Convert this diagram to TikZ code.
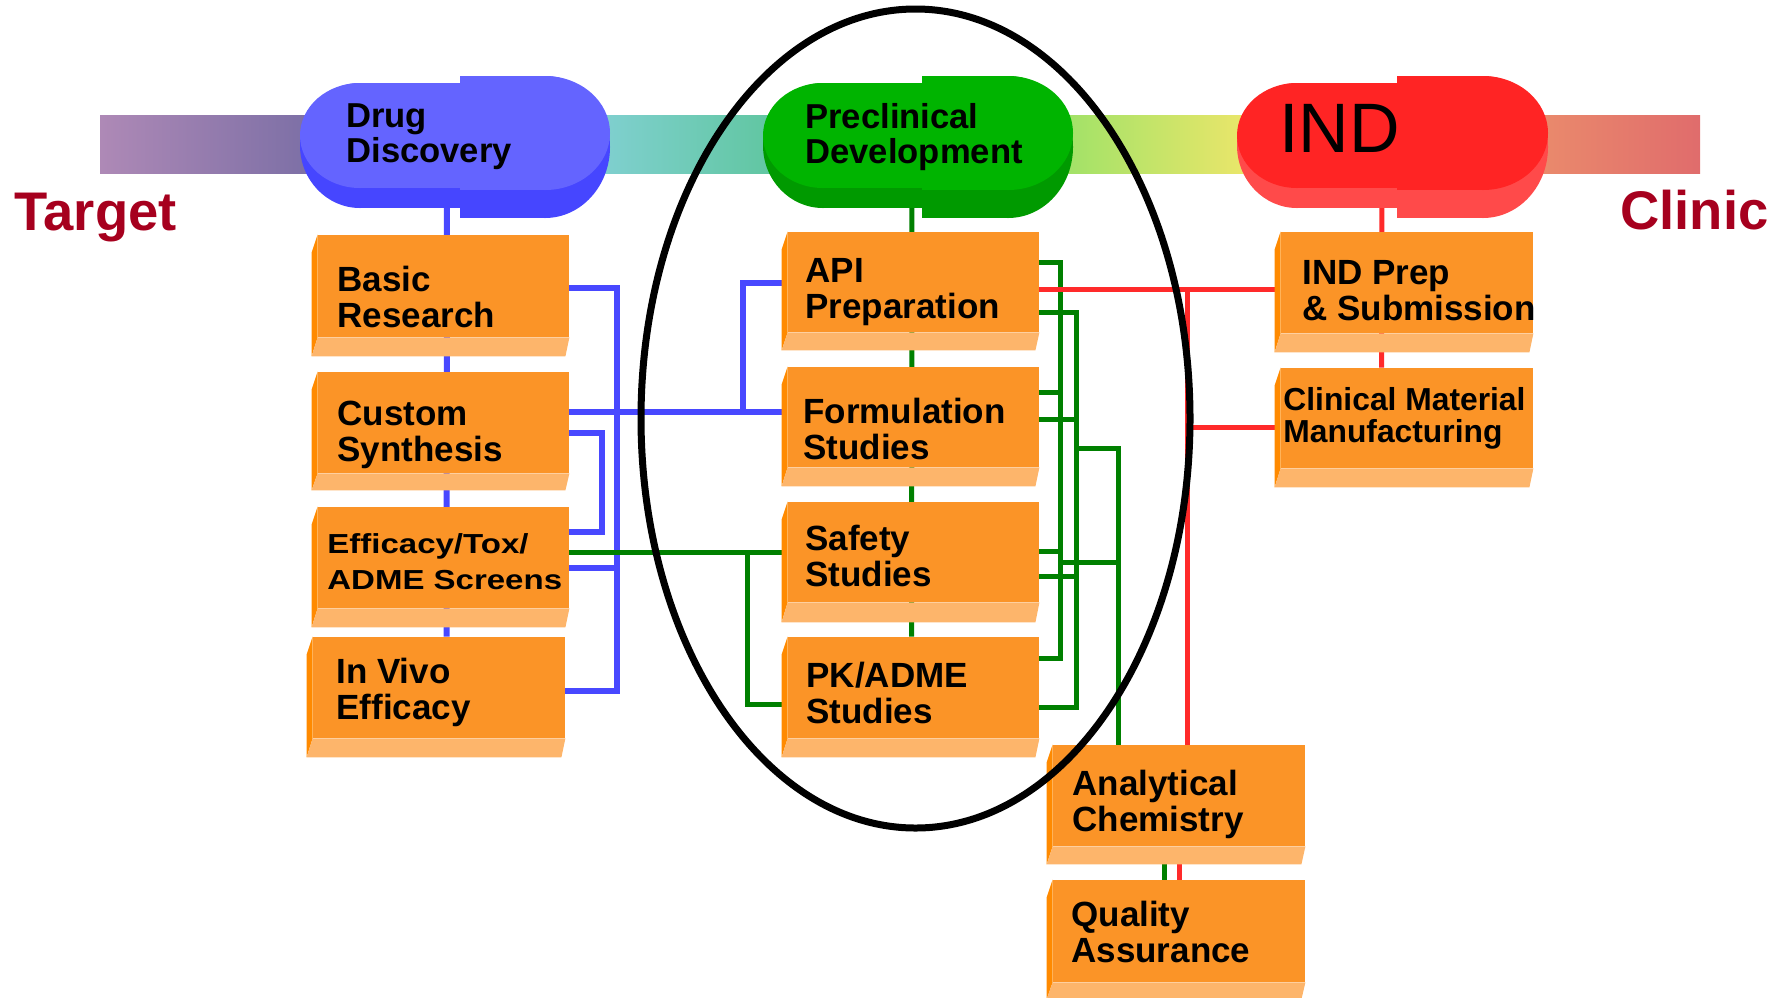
\documentclass[tikz,border=0pt]{standalone}
\usepackage{fontspec}
\setmainfont{Liberation Sans}
\usetikzlibrary{fit,calc}
\definecolor{oface}{HTML}{FB9427}
\definecolor{oband}{HTML}{FDB56B}
\definecolor{oside}{HTML}{FF8A00}
\definecolor{blueln}{HTML}{4848FF}
\definecolor{greenln}{HTML}{008000}
\definecolor{redln}{HTML}{FF2A2A}
\definecolor{ddface}{HTML}{6464FF}
\definecolor{ddband}{HTML}{4646FF}
\definecolor{pdface}{HTML}{00B400}
\definecolor{pdband}{HTML}{009A00}
\definecolor{indface}{HTML}{FF2424}
\definecolor{indband}{HTML}{FF4A4A}
\definecolor{tred}{HTML}{A6001E}
\newcommand\twol[2]{\begin{tabular}[t]{@{}l@{}}#1\\#2\end{tabular}}
\newcommand\drawbox[2]{%
  \fill[oside] ($(#1.north west)+(0,18)$) -- ($(#1.north west)+(6,0)$) -- ($(#1.south west)+(6,-#2)$) -- (#1.south west) -- cycle;
  \fill[oband] (#1.south west) -- ($(#1.south west)+(6,-#2)$) -- ($(#1.south east)+(0,-#2)$) -- ($(#1.south east)+(-4,0)$) -- cycle;
  \fill[oface] ($(#1.north west)+(6,0)$) rectangle ($(#1.south east)+(0,-#2)$);
}
\newcommand\pill[5]{%
  \fill[#5] (#1+60,83) rectangle (#2,208);
  \fill[#5] (#1+60,145.5) ellipse [x radius=60, y radius=62.5];
  \fill[#4] (#1+60,83) rectangle (#2,188);
  \fill[#4] (#1+60,135.5) ellipse [x radius=60, y radius=52.5];
  \fill[#5] (#2,76) rectangle (#3-65,218);
  \fill[#5] (#3-65,147) ellipse [x radius=65, y radius=71];
  \fill[#4] (#2,76) rectangle (#3-65,190);
  \fill[#4] (#3-65,133) ellipse [x radius=65, y radius=57];
}
\begin{document}
\begin{tikzpicture}[x=0.5pt,y=-0.5pt,
  boxn/.style={inner sep=0pt, draw=none},
  bl/.style={draw=blueln, line width=3pt},
  gr/.style={draw=greenln, line width=2.5pt},
  rd/.style={draw=redln, line width=2.5pt},
  btxt/.style={inner sep=0pt, anchor=base west, font=\fontsize{17.5pt}{18pt}\selectfont\bfseries},
  stxt/.style={inner sep=0pt, anchor=base west, font=\fontsize{15.9pt}{16pt}\selectfont\bfseries},
  etxt/.style={inner sep=0pt, anchor=base west, font=\fontsize{13.75pt}{18pt}\selectfont\bfseries},
  ptxt/.style={inner sep=0pt, anchor=base west, font=\fontsize{17.3pt}{17.5pt}\selectfont\bfseries},
  ttxt/.style={inner sep=0pt, anchor=base west, text=tred, font=\fontsize{27.2pt}{28pt}\selectfont\bfseries}
]
\useasboundingbox (0,0) rectangle (1786,997);
% gradient bar
\fill[left color={rgb,255:red,174;green,137;blue,182}, right color={rgb,255:red,122;green,110;blue,165}] (100,115) rectangle (320,173);
\fill[left color={rgb,255:red,128;green,208;blue,208}, right color={rgb,255:red,96;green,198;blue,160}] (600,115) rectangle (775,173);
\fill[left color={rgb,255:red,160;green,226;blue,104}, right color={rgb,255:red,236;green,230;blue,106}] (1063,115) rectangle (1250,173);
\fill[left color={rgb,255:red,234;green,138;blue,108}, right color={rgb,255:red,224;green,108;blue,108}] (1540,115) rectangle (1700,173);

% node frames
\node[boxn, fit={(300,76) (610,218)}] (dd) {};
\node[boxn, fit={(763,76) (1073,218)}] (pd) {};
\node[boxn, fit={(1237,76) (1548,218)}] (ind) {};
\node[boxn, fit={(312,235) (569,356)}] (bas) {};
\node[boxn, fit={(312,372) (569,490)}] (cus) {};
\node[boxn, fit={(312,507) (569,627)}] (eff) {};
\node[boxn, fit={(307,637) (565,757)}] (ivv) {};
\node[boxn, fit={(782,232) (1039,350)}] (api) {};
\node[boxn, fit={(782,367) (1039,486)}] (frm) {};
\node[boxn, fit={(782,502) (1039,622)}] (saf) {};
\node[boxn, fit={(782,637) (1039,757)}] (pk) {};
\node[boxn, fit={(1275,232) (1533,352)}] (indp) {};
\node[boxn, fit={(1275,368) (1533,487)}] (cmm) {};
\node[boxn, fit={(1047,745) (1305,864)}] (ac) {};
\node[boxn, fit={(1047,880) (1305,999)}] (qa) {};

% blue connectors
\draw[bl] ($(dd.center)+(-8,0)$) -- ($(ivv.north west)+(140,0)$);
\draw[bl] ($(bas.north east)+(0,53)$) -| ($(ivv.north east)+(52,54)$) -- ($(ivv.north east)+(0,54)$);
\draw[bl] ($(eff.north east)+(0,61)$) -- ++(48,0);
\draw[bl] ($(cus.north east)+(0,40)$) -- ($(frm.north west)+(0,45)$);
\draw[bl] ($(frm.north west)+(-39,45)$) |- ($(api.north west)+(0,51)$);
\draw[bl] ($(cus.north east)+(0,61)$) -| ($(eff.north east)+(33,25)$) -- ($(eff.north east)+(0,25)$);
% green connectors
\draw[gr] ($(pd.center)+(-6,0)$) -- ($(pk.north west)+(130,0)$);
\draw[gr] ($(eff.north east)+(0,46)$) -- ($(saf.north west)+(0,51)$);
\draw[gr] ($(saf.north west)+(-34,51)$) |- ($(pk.north west)+(0,68)$);
\draw[gr] ($(api.north east)+(0,31)$) -| ($(pk.north east)+(21,22)$) -- ($(pk.north east)+(0,22)$);
\draw[gr] ($(frm.north east)+(0,26)$) -- ++(21,0);
\draw[gr] ($(saf.north east)+(0,50)$) -- ++(21,0);
\draw[gr] ($(api.north east)+(0,81)$) -| ($(pk.north east)+(37,71)$) -- ($(pk.north east)+(0,71)$);
\draw[gr] ($(frm.north east)+(0,53)$) -- ++(37,0);
\draw[gr] ($(saf.north east)+(0,75)$) -- ++(37,0);
\draw[gr] ($(frm.north east)+(37,82)$) -| ($(ac.north west)+(72,0)$);
\draw[gr] ($(saf.north east)+(21,61)$) -- ++(59,0);
\draw[gr] ($(ac.south west)+(118,0)$) -- ($(qa.north west)+(118,0)$);
% red connectors
\draw[rd] ($(ind.center)+(-10.5,0)$) -- ($(cmm.north west)+(107,0)$);
\draw[rd] ($(api.north east)+(0,58)$) -- ($(indp.north west)+(0,58)$);
\draw[rd] ($(indp.north west)+(-87,58)$) -- ($(ac.north west)+(141,0)$);
\draw[rd] ($(cmm.north west)+(-87,60)$) -- ($(cmm.north west)+(0,60)$);
\draw[rd] ($(ac.south west)+(133,0)$) -- ($(qa.north west)+(133,0)$);

% pills
\pill{300}{460}{610}{ddface}{ddband}
\pill{763}{922}{1073}{pdface}{pdband}
\pill{1237}{1397}{1548}{indface}{indband}

% boxes
\drawbox{bas}{19}
\drawbox{cus}{17}
\drawbox{eff}{19}
\drawbox{ivv}{19}
\drawbox{api}{18}
\drawbox{frm}{19}
\drawbox{saf}{20}
\drawbox{pk}{19}
\drawbox{indp}{19}
\drawbox{cmm}{19}
\drawbox{ac}{18}
\drawbox{qa}{17}

% texts
\node[ptxt] (tdd) at (346,127) {\twol{Drug}{Discovery}};
\node[ptxt] (tpd) at (805,128) {\twol{Preclinical}{Development}};
\node[inner sep=0pt, anchor=base west, font=\fontsize{35pt}{36pt}\selectfont] (tind) at (1279,152) {IND};
\node[ttxt] (ttarget) at (14,230) {Target};
\node[ttxt] (tclinic) at (1620,229) {Clinic};
\node[btxt] (tbas) at (337,291) {\twol{Basic}{Research}};
\node[btxt] (tcus) at (337,425) {\twol{Custom}{Synthesis}};
\node[etxt] (teff) at (327,553) {\scalebox{1.2}[1]{\twol{Efficacy/Tox/}{ADME Screens}}};
\node[btxt] (tivv) at (336,683) {\twol{In Vivo}{Efficacy}};
\node[btxt] (tapi) at (805,282) {\twol{API}{Preparation}};
\node[btxt] (tfrm) at (803,423) {\twol{Formulation}{Studies}};
\node[btxt] (tsaf) at (805,550) {\twol{Safety}{Studies}};
\node[btxt] (tpk) at (806,687) {\twol{PK/ADME}{Studies}};
\node[btxt] (tindp) at (1302,284) {\twol{IND Prep}{\& Submission}};
\node[stxt] (tcmm) at (1283,410) {\twol{Clinical Material}{Manufacturing}};
\node[btxt] (tac) at (1072,795) {\twol{Analytical}{Chemistry}};
\node[btxt] (tqa) at (1071,926) {\twol{Quality}{Assurance}};

% ellipse
\draw[line width=3.5pt] (915.5,418.5) ellipse [x radius=274.5, y radius=409.5];
\end{tikzpicture}
\end{document}
